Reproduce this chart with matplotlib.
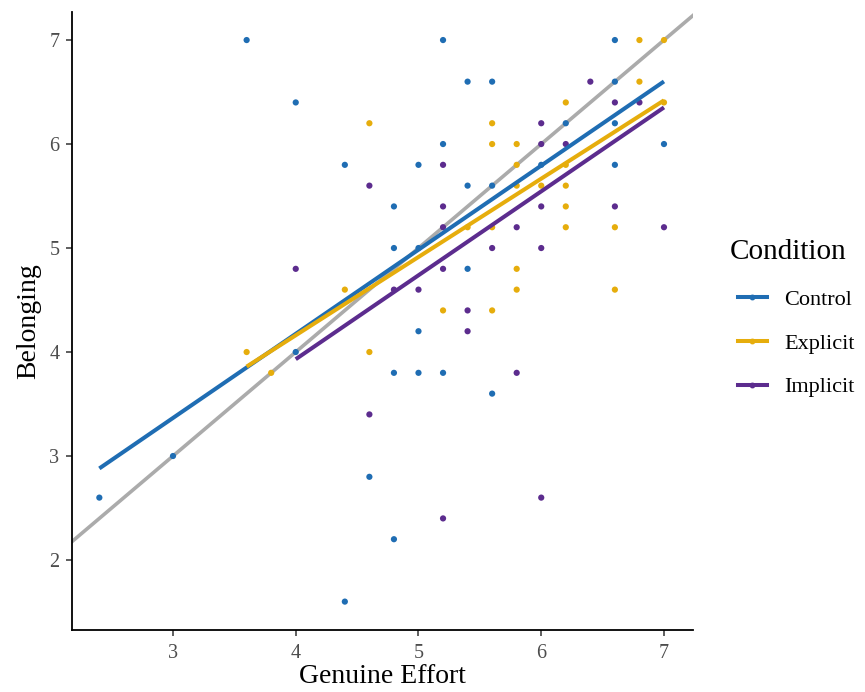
import matplotlib.pyplot as plt
import numpy as np

plt.rcParams['font.family'] = ['Liberation Serif', 'DejaVu Serif']

# Data (Genuine Effort, Belonging) per condition
control_x = [3.6, 4.0, 4.4, 5.2, 6.6, 5.4, 5.6, 6.6, 6.2, 6.6, 5.2, 7.0, 5.0, 6.0, 6.6, 5.4,
             5.6, 4.8, 4.8, 5.0, 5.4, 5.0, 4.8, 5.0, 5.2, 5.6, 4.8, 4.0, 3.0, 4.6, 2.4, 4.4]
control_y = [7.0, 6.4, 5.8, 7.0, 7.0, 6.6, 6.6, 6.6, 6.2, 6.2, 6.0, 6.0, 5.8, 5.8, 5.8, 5.6,
             5.6, 5.4, 5.0, 5.0, 4.8, 4.2, 3.8, 3.8, 3.8, 3.6, 2.2, 4.0, 3.0, 2.8, 2.6, 1.6]

explicit_x = [4.6, 4.4, 6.8, 7.0, 6.8, 6.2, 7.0, 5.6, 5.6, 5.8, 5.8, 5.8, 6.0, 6.2, 6.2,
              5.4, 5.6, 6.2, 6.6, 5.8, 5.8, 6.6, 5.2, 5.6, 3.6, 4.6, 3.8, 6.2]
explicit_y = [6.2, 4.6, 7.0, 7.0, 6.6, 6.4, 6.4, 6.2, 6.0, 6.0, 5.8, 5.6, 5.6, 5.6, 5.4,
              5.2, 5.2, 5.2, 5.2, 4.8, 4.6, 4.6, 4.4, 4.4, 4.0, 4.0, 3.8, 5.8]

implicit_x = [4.6, 4.0, 6.4, 6.6, 6.8, 6.0, 6.0, 6.2, 5.2, 5.2, 6.0, 6.6, 5.2, 5.8, 7.0,
              5.6, 6.0, 5.2, 4.8, 5.0, 5.4, 5.4, 5.8, 6.0, 5.2, 4.6]
implicit_y = [5.6, 4.8, 6.6, 6.4, 6.4, 6.2, 6.0, 6.0, 5.8, 5.4, 5.4, 5.4, 5.2, 5.2, 5.2,
              5.0, 5.0, 4.8, 4.6, 4.6, 4.4, 4.2, 3.8, 2.6, 2.4, 3.4]

# fitted lines (intercept, slope)
fit_intercepts = [0.939, 1.149, 0.703]
fit_slopes = [0.809, 0.753, 0.807]

conditions = ['Control', 'Explicit', 'Implicit']
colors = ['#1F6DB3', '#E6AD0C', '#5C2C8E']
xs = [control_x, explicit_x, implicit_x]
ys = [control_y, explicit_y, implicit_y]

fig = plt.figure(figsize=(8.65, 6.92), dpi=100)
ax = fig.add_axes([0.0832, 0.0896, 0.7179, 0.8931])

xlim = (2.177, 7.236)
ylim = (1.327, 7.27)

# identity line
ref = np.array(xlim)
ax.plot(ref, ref, color='#ABABAB', lw=2.6, zorder=1)

for x, y, c in zip(xs, ys, colors):
    ax.scatter(x, y, s=20, color=c, edgecolors='none', zorder=2)

for x, a, b, c in zip(xs, fit_intercepts, fit_slopes, colors):
    xx = np.array([min(x), max(x)])
    ax.plot(xx, a + b * xx, color=c, lw=2.9, zorder=3, solid_capstyle='butt')

ax.set_xlim(*xlim)
ax.set_ylim(*ylim)
ax.set_xticks([3, 4, 5, 6, 7])
ax.set_yticks([2, 3, 4, 5, 6, 7])

for s in ['top', 'right']:
    ax.spines[s].set_visible(False)
for s in ['left', 'bottom']:
    ax.spines[s].set_linewidth(1.3)
    ax.spines[s].set_color('black')

ax.tick_params(length=4, width=1.1, color='#333333', labelcolor='#4D4D4D',
               labelsize=14.5)
ax.tick_params(axis='x', pad=6)
ax.tick_params(axis='y', pad=5)
ax.set_xlabel('Genuine Effort', fontsize=20, labelpad=1)
ax.set_ylabel('Belonging', fontsize=20, labelpad=6)

# legend with line + point keys
handles = []
for c in colors:
    h, = ax.plot([], [], color=c, lw=2.9, marker='o', markersize=3.2)
    handles.append(h)
fig.legend(handles=handles, labels=conditions,
           loc='center left', bbox_to_anchor=(0.853, 0.504), frameon=False,
           fontsize=16, handlelength=1.3, labelspacing=1.05,
           handletextpad=0.8, borderaxespad=0, borderpad=0)
fig.text(0.844, 0.636, 'Condition', fontsize=21, ha='left', va='center')

plt.savefig('out.png', dpi=100)
